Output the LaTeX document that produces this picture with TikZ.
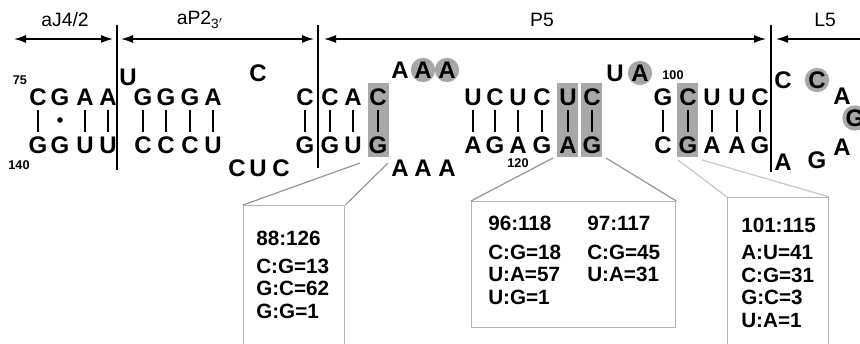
\documentclass[tikz,border=0pt]{standalone}
\usepackage{fontspec}
\setmainfont{Liberation Sans}
\usetikzlibrary{arrows.meta,calc}
\definecolor{hl}{RGB}{168,168,168}
\definecolor{cl}{RGB}{150,150,150}
\definecolor{cl2}{RGB}{200,200,200}
\definecolor{bx}{RGB}{180,180,180}
\begin{document}
\begin{tikzpicture}[x=0.75pt,y=-0.75pt,
 nt/.style={font=\fontsize{18}{18}\selectfont\bfseries, inner sep=0pt, text height=12.9pt, text depth=0pt},
 nc/.style={nt, circle, fill=hl, minimum size=16.5pt},
 pairline/.style={line width=1.1pt, shorten <=3pt, shorten >=3pt},
 hdr/.style={font=\fontsize{14.5}{14.5}\selectfont},
 num/.style={font=\fontsize{9.5}{9.5}\selectfont\bfseries, inner sep=0pt},
 boxnode/.style={draw=bx, line width=1pt, anchor=north west, inner sep=0pt},
 btxt/.style={font=\fontsize{15.5}{15.5}\selectfont\bfseries, anchor=west, inner sep=0pt},
 callout/.style={draw=cl, line width=0.9pt},
 callout2/.style={draw=cl2, line width=0.9pt},
 arr/.style={{Latex[length=9pt,width=6pt]}-{Latex[length=9pt,width=6pt]}, line width=1.1pt},
 sep/.style={line width=1.1pt}
]
\useasboundingbox (0,0) rectangle (860,343);
\clip (0,0) rectangle (860,343);
\fill[white] (0,0) rectangle (860,343);

% header
\node[hdr] (h1) at (65,20) {aJ4/2};
\node[hdr] (h2) at (200,20) {aP2\textsubscript{3$'$}};
\node[hdr] (h3) at (542,20) {P5};
\node[hdr] (h4) at (825,20) {L5};
\coordinate (s1t) at (117,25); \coordinate (s1b) at (117,170);
\coordinate (s2t) at (318,25); \coordinate (s2b) at (318,168);
\coordinate (s3t) at (771,25); \coordinate (s3b) at (771,172);
\draw[sep] (s1t) -- (s1b);
\draw[sep] (s2t) -- (s2b);
\draw[sep] (s3t) -- (s3b);
\coordinate (a1l) at (14,39); \coordinate (a1r) at (113,39);
\coordinate (a2l) at (121,39); \coordinate (a2r) at (314,39);
\coordinate (a3l) at (324,39); \coordinate (a3r) at (766,39);
\coordinate (a4l) at (776,39); \coordinate (a4r) at (880,39);
\draw[arr] (a1l) -- (a1r);
\draw[arr] (a2l) -- (a2r);
\draw[arr] (a3l) -- (a3r);
\draw[arr] (a4l) -- (a4r);

% highlight rectangles
\fill[hl] (368,83) rectangle (389,157);
\fill[hl] (557,83) rectangle (578,157);
\fill[hl] (581,83) rectangle (602,157);
\fill[hl] (677,83) rectangle (698,157);

% top strand
\node[nt] (t1) at (38,97) {C};
\node[nt] (t2) at (60,97) {G};
\node[nt] (t3) at (85,97) {A};
\node[nt] (t4) at (108,97) {A};
\node[nt] (t5) at (143,97) {G};
\node[nt] (t6) at (166,97) {G};
\node[nt] (t7) at (190,97) {G};
\node[nt] (t8) at (213,97) {A};
\node[nt] (t9) at (305,97) {C};
\node[nt] (t10) at (330,97) {C};
\node[nt] (t11) at (353,97) {A};
\node[nt] (t12) at (378,97) {C};
\node[nt] (t13) at (473,97) {U};
\node[nt] (t14) at (495,97) {C};
\node[nt] (t15) at (518,97) {U};
\node[nt] (t16) at (542,97) {C};
\node[nt] (t17) at (568,97) {U};
\node[nt] (t18) at (592,97) {C};
\node[nt] (t19) at (663,97) {G};
\node[nt] (t20) at (688,97) {C};
\node[nt] (t21) at (712,97) {U};
\node[nt] (t22) at (737,97) {U};
\node[nt] (t23) at (760,97) {C};
% bottom strand
\node[nt] (b1) at (38,145) {G};
\node[nt] (b2) at (60,145) {G};
\node[nt] (b3) at (85,145) {U};
\node[nt] (b4) at (108,145) {U};
\node[nt] (b5) at (143,145) {C};
\node[nt] (b6) at (166,145) {C};
\node[nt] (b7) at (190,145) {C};
\node[nt] (b8) at (213,145) {U};
\node[nt] (b9) at (305,145) {G};
\node[nt] (b10) at (330,145) {G};
\node[nt] (b11) at (353,145) {U};
\node[nt] (b12) at (378,145) {G};
\node[nt] (b13) at (473,145) {A};
\node[nt] (b14) at (495,145) {G};
\node[nt] (b15) at (518,145) {A};
\node[nt] (b16) at (542,145) {G};
\node[nt] (b17) at (568,145) {A};
\node[nt] (b18) at (592,145) {G};
\node[nt] (b19) at (663,145) {C};
\node[nt] (b20) at (688,145) {G};
\node[nt] (b21) at (712,145) {A};
\node[nt] (b22) at (737,145) {A};
\node[nt] (b23) at (760,145) {G};

\foreach \i in {1,3,4,5,6,7,8,9,10,11,12,13,14,15,16,17,18,19,20,21,22,23}
  \draw[pairline] (t\i.south) -- (b\i.north);
\fill (60,120) circle (2.8);

% loops and bulges
\node[nt] (l1) at (128,77) {U};
\node[nt] (l2) at (258,73) {C};
\node[nt] (l3) at (237,168) {C};
\node[nt] (l4) at (258,168) {U};
\node[nt] (l5) at (281,168) {C};
\node[nt] (l6) at (400,70) {A};
\node[nc] (l7) at (423,70) {A};
\node[nc] (l8) at (447,70) {A};
\node[nt] (l9) at (400,168) {A};
\node[nt] (l10) at (423,168) {A};
\node[nt] (l11) at (447,168) {A};
\node[nt] (l12) at (615,73) {U};
\node[nc] (l13) at (640,73) {A};
\node[nt] (l14) at (783,80) {C};
\node[nc] (l15) at (817,80) {C};
\node[nt] (l16) at (842,96) {A};
\node[nc] (l17) at (855,118) {G};
\node[nt] (l18) at (842,147) {A};
\node[nt] (l19) at (817,160) {G};
\node[nt] (l20) at (783,162) {A};

% numbers
\node[num] (n75) at (20,80) {75};
\node[num] (n140) at (19,165) {140};
\node[num] (n120) at (518,163) {120};
\node[num] (n100) at (673,75) {100};

% callout boxes
\node[boxnode, minimum width=75.75pt, minimum height=120pt] (box1) at (243,205) {};
\node[boxnode, minimum width=153pt, minimum height=94.5pt] (box2) at (471,201) {};
\node[boxnode, minimum width=75.75pt, minimum height=150pt] (box3) at (727,197) {};

\coordinate (k1) at (360,163); \coordinate (k2) at (388,163);
\coordinate (k3) at (553,158); \coordinate (k4) at (606,158);
\coordinate (k5) at (678,160); \coordinate (k6) at (702,160);
\draw[callout] (box1.north west) -- (k1);
\draw[callout] (box1.north east) -- (k2);
\draw[callout] (box2.north west) -- (k3);
\draw[callout] (box2.north east) -- (k4);
\draw[callout2] (box3.north west) -- (k5);
\draw[callout2] (box3.north east) -- (k6);

% box texts
\node[btxt] (x1) at (256,238) {88:126};
\node[btxt] (x2) at (256,266) {C:G=13};
\node[btxt] (x3) at (256,288) {G:C=62};
\node[btxt] (x4) at (256,311) {G:G=1};

\node[btxt] (y1) at (488,223) {96:118};
\node[btxt] (y2) at (488,252) {C:G=18};
\node[btxt] (y3) at (488,274) {U:A=57};
\node[btxt] (y4) at (488,297) {U:G=1};
\node[btxt] (y5) at (587,223) {97:117};
\node[btxt] (y6) at (587,252) {C:G=45};
\node[btxt] (y7) at (587,274) {U:A=31};

\node[btxt] (z1) at (741,225) {101:115};
\node[btxt] (z2) at (741,252) {A:U=41};
\node[btxt] (z3) at (741,275) {C:G=31};
\node[btxt] (z4) at (741,297) {G:C=3};
\node[btxt] (z5) at (741,320) {U:A=1};
\end{tikzpicture}
\end{document}
